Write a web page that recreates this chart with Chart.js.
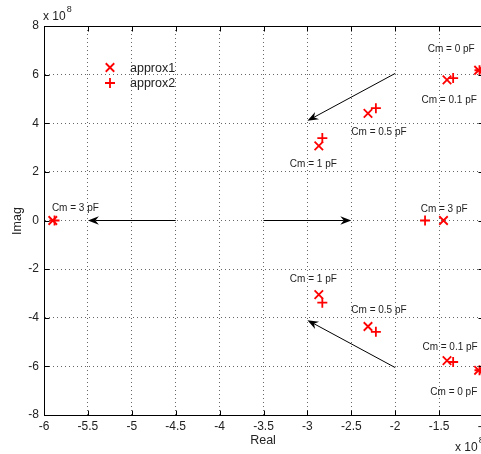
<!DOCTYPE html>
<html>
<head>
<meta charset="utf-8">
<script src="https://cdn.jsdelivr.net/npm/chart.js@4/dist/chart.umd.min.js"></script>
<style>
  html, body { margin: 0; padding: 0; overflow: hidden; background: #fff; width: 481px; height: 454px; }
  #wrap { width: 520px; height: 454px; }
</style>
</head>
<body>
<div id="wrap"><canvas id="c" width="520" height="454"></canvas></div>
<script>
// Pole locations (units of 1e8) for the two approximations, upper half then lower half
const approx1Real = [-1.05, -1.41, -2.31, -2.87, -1.45, -5.90, -2.87, -2.31, -1.41, -1.05];
const approx1Imag = [6.18, 5.78, 4.41, 3.07, 0, 0, -3.05, -4.36, -5.76, -6.16];
const approx2Real = [-1.04, -1.34, -2.22, -2.83, -1.66, -5.88, -2.83, -2.22, -1.34, -1.04];
const approx2Imag = [6.18, 5.86, 4.62, 3.39, 0, 0, -3.38, -4.58, -5.82, -6.16];

// Coupling-capacitance annotations (left edge x, centre y)
const labelText = ['Cm = 0 pF', 'Cm = 0.1 pF', 'Cm = 0.5 pF', 'Cm = 1 pF', 'Cm = 3 pF',
                   'Cm = 3 pF', 'Cm = 1 pF', 'Cm = 0.5 pF', 'Cm = 0.1 pF', 'Cm = 0 pF'];
const labelX = [-1.63, -1.70, -2.50, -3.20, -5.91, -1.71, -3.20, -2.50, -1.69, -1.60];
const labelY = [7.05, 4.95, 3.62, 2.30, 0.50, 0.47, -2.40, -3.70, -5.22, -7.05];

// Arrows showing the direction of increasing Cm
const arrowStartX = [-2.0, -4.5, -3.5, -2.0];
const arrowStartY = [6.05, 0, 0, -6.05];
const arrowEndX = [-3.0, -5.5, -2.5, -3.0];
const arrowEndY = [4.1, 0, 0, -4.1];

// Axis ticks
const xTicks = [-6, -5.5, -5, -4.5, -4, -3.5, -3, -2.5, -2, -1.5, -1];
const yTicks = [-8, -6, -4, -2, 0, 2, 4, 6, 8];

const seriesNames = ['approx1', 'approx2'];
const RED = '#ff0000';
const FONT = '"Liberation Sans", Arial, Helvetica, sans-serif';

function toPoints(xs, ys) { return xs.map((x, i) => ({ x: x, y: ys[i] })); }

function drawMarker(ctx, style, x, y, r) {
  ctx.save();
  ctx.strokeStyle = RED;
  ctx.lineWidth = 1.8;
  ctx.beginPath();
  if (style === 'cross') {
    ctx.moveTo(x - r, y); ctx.lineTo(x + r, y);
    ctx.moveTo(x, y - r); ctx.lineTo(x, y + r);
  } else {
    const d = r * Math.SQRT1_2;
    ctx.moveTo(x - d, y - d); ctx.lineTo(x + d, y + d);
    ctx.moveTo(x - d, y + d); ctx.lineTo(x + d, y - d);
  }
  ctx.stroke();
  ctx.restore();
}

const decorations = {
  id: 'decorations',
  afterDraw(chart) {
    const { ctx, chartArea: a, scales: { x: sx, y: sy } } = chart;
    ctx.save();

    // box and inward ticks
    ctx.strokeStyle = '#000';
    ctx.lineWidth = 1;
    ctx.beginPath();
    const top = Math.round(a.top) + 0.5, bot = Math.round(a.bottom) + 0.5;
    const lft = Math.round(a.left) + 0.5, rgt = Math.round(a.right) + 0.5;
    ctx.moveTo(lft, top); ctx.lineTo(rgt, top); ctx.lineTo(rgt, bot);
    ctx.lineTo(lft, bot); ctx.closePath();
    xTicks.forEach(v => {
      const px = Math.round(sx.getPixelForValue(v)) + 0.5;
      ctx.moveTo(px, bot); ctx.lineTo(px, bot - 5);
      ctx.moveTo(px, top); ctx.lineTo(px, top + 5);
    });
    yTicks.forEach(v => {
      const py = Math.round(sy.getPixelForValue(v)) + 0.5;
      ctx.moveTo(lft, py); ctx.lineTo(lft + 5, py);
      ctx.moveTo(rgt, py); ctx.lineTo(rgt - 5, py);
    });
    ctx.stroke();

    // arrows
    ctx.fillStyle = '#000';
    ctx.strokeStyle = '#000';
    arrowStartX.forEach((_, i) => {
      const x1 = sx.getPixelForValue(arrowStartX[i]), y1 = sy.getPixelForValue(arrowStartY[i]);
      const x2 = sx.getPixelForValue(arrowEndX[i]), y2 = sy.getPixelForValue(arrowEndY[i]);
      const ang = Math.atan2(y2 - y1, x2 - x1);
      const len = 11, half = 4.2, notch = 7.5;
      const bx = x2 - len * Math.cos(ang), by = y2 - len * Math.sin(ang);
      const nx = x2 - notch * Math.cos(ang), ny = y2 - notch * Math.sin(ang);
      ctx.beginPath();
      ctx.moveTo(x1, y1);
      ctx.lineTo(nx, ny);
      ctx.lineWidth = 1;
      ctx.stroke();
      ctx.beginPath();
      ctx.moveTo(x2, y2);
      ctx.lineTo(bx + half * Math.sin(ang), by - half * Math.cos(ang));
      ctx.lineTo(nx, ny);
      ctx.lineTo(bx - half * Math.sin(ang), by + half * Math.cos(ang));
      ctx.closePath();
      ctx.fill();
    });

    // annotations
    ctx.fillStyle = '#222';
    ctx.font = '10px ' + FONT;
    ctx.textAlign = 'left';
    ctx.textBaseline = 'middle';
    labelText.forEach((t, i) => {
      ctx.fillText(t, sx.getPixelForValue(labelX[i]), sy.getPixelForValue(labelY[i]));
    });

    // legend
    ctx.font = '12.5px ' + FONT;
    ctx.fillStyle = '#222';
    const legendStyles = chart.data.datasets.map(d => [d.pointStyle, d.pointRadius]);
    seriesNames.forEach((name, i) => {
      const ly = 67.5 + i * 15.5;
      drawMarker(ctx, legendStyles[i][0], 110, ly, legendStyles[i][1]);
      ctx.fillText(name, 130, ly + 1);
    });

    // axis titles
    ctx.fillStyle = '#222';
    ctx.font = '12.5px ' + FONT;
    ctx.textAlign = 'center';
    ctx.fillText('Real', 263, 441);
    ctx.save();
    ctx.translate(18, 221);
    ctx.rotate(-Math.PI / 2);
    ctx.fillText('Imag', 0, 0);
    ctx.restore();

    // exponent markers
    function exponent(x, y) {
      ctx.textAlign = 'left';
      ctx.font = '12px ' + FONT;
      ctx.fillText('x 10', x, y);
      const w = ctx.measureText('x 10').width;
      ctx.font = '9px ' + FONT;
      ctx.fillText('8', x + w + 1, y - 7);
    }
    exponent(43, 17);
    exponent(455, 448);

    ctx.restore();
  }
};

new Chart(document.getElementById('c'), {
  type: 'scatter',
  data: {
    datasets: [
      {
        label: seriesNames[0],
        data: toPoints(approx1Real, approx1Imag),
        pointStyle: 'crossRot',
        pointRadius: 6,
        borderColor: RED,
        backgroundColor: RED,
        pointBorderWidth: 1.8,
        clip: false
      },
      {
        label: seriesNames[1],
        data: toPoints(approx2Real, approx2Imag),
        pointStyle: 'cross',
        pointRadius: 5,
        borderColor: RED,
        backgroundColor: RED,
        pointBorderWidth: 1.8,
        clip: false
      }
    ]
  },
  options: {
    responsive: false,
    animation: false,
    devicePixelRatio: 1,
    layout: { padding: { left: 0, top: 26, right: 37, bottom: 0 } },
    plugins: { legend: { display: false }, tooltip: { enabled: false } },
    scales: {
      x: {
        type: 'linear',
        min: xTicks[0],
        max: xTicks[xTicks.length - 1],
        afterFit: s => { s.height = 39; },
        afterBuildTicks: s => { s.ticks = xTicks.map(v => ({ value: v })); },
        ticks: {
          autoSkip: false,
          maxRotation: 0,
          padding: 4,
          color: '#222',
          font: { size: 12, family: FONT },
          callback: v => String(Number(v.toFixed(1)))
        },
        grid: { color: 'rgba(0,0,0,0.6)', lineWidth: 1, drawTicks: false },
        border: { display: true, color: '#000', width: 1, dash: [1, 3] }
      },
      y: {
        type: 'linear',
        min: yTicks[0],
        max: yTicks[yTicks.length - 1],
        afterFit: s => { s.width = 44; },
        afterBuildTicks: s => { s.ticks = yTicks.map(v => ({ value: v })); },
        ticks: {
          autoSkip: false,
          padding: 5,
          color: '#222',
          font: { size: 12, family: FONT },
          callback: v => String(v)
        },
        grid: { color: 'rgba(0,0,0,0.6)', lineWidth: 1, drawTicks: false },
        border: { display: true, color: '#000', width: 1, dash: [1, 3] }
      }
    }
  },
  plugins: [decorations]
});
</script>
</body>
</html>
